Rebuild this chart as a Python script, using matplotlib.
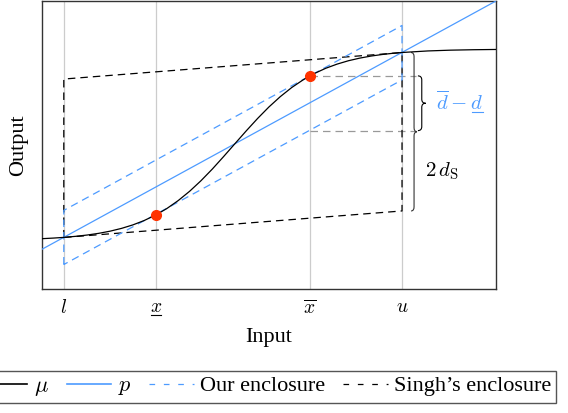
import numpy as np
import matplotlib
matplotlib.use("Agg")
import matplotlib.pyplot as plt
from matplotlib.path import Path
from matplotlib.patches import PathPatch
from matplotlib.lines import Line2D
from matplotlib.transforms import IdentityTransform

plt.rcParams['font.family'] = ['Liberation Serif', 'DejaVu Serif']
plt.rcParams['mathtext.fontset'] = 'cm'

# key input positions
l_x, xlo, xhi, u_x = 0.48, 2.51, 5.90, 7.93
tick_pos = [l_x, xlo, xhi, u_x]
# mathtext has no \underline, the bar under x is added by hand below
tick_lbl = [r'$l$', r'$x$', r'$\overline{x}$', r'$u$']

# mu curve
mu_x = [0.00, 0.25, 0.48, 0.75, 1.00, 1.25, 1.50, 1.75, 2.00, 2.25, 2.51,
        2.75, 3.00, 3.25, 3.50, 3.75, 4.00, 4.25, 4.50, 4.75, 5.00, 5.25,
        5.50, 5.75, 5.90, 6.00, 6.25, 6.50, 6.75, 7.00, 7.25, 7.50, 7.75,
        7.93, 8.50, 9.00, 9.50, 10.0]
mu_y = [1.747, 1.768, 1.792, 1.830, 1.875, 1.933, 2.008, 2.104, 2.225, 2.377,
        2.574, 2.794, 3.070, 3.391, 3.757, 4.162, 4.598, 5.046, 5.493, 5.923,
        6.323, 6.681, 6.995, 7.260, 7.399, 7.483, 7.664, 7.809, 7.926, 8.017,
        8.089, 8.144, 8.188, 8.212, 8.266, 8.293, 8.308, 8.317]

# linear approximation p
p_x = [0.0, 10.0]
p_y = [1.38, 10.0]

# our enclosure (parallelogram around p)
our_x = [l_x, l_x, u_x, u_x, l_x]
our_y = [0.85, 2.73, 9.15, 7.26, 0.85]

# Singh's enclosure
singh_x = [l_x, l_x, u_x, u_x, l_x]
singh_y = [1.79, 7.29, 8.21, 2.71, 1.79]

# touching points
pts_x = [xlo, xhi]
pts_y = [2.574, 7.399]

# levels for the d-bar - d-under brace
d_hi, d_lo = 7.40, 5.50

blue = '#4d9bff'


def brace(ax, x0, y0, y1, w, r, **kw):
    xm = x0 + w / 2
    ym = (y0 + y1) / 2
    verts = [(x0, y0), (xm, y0), (xm, y0 + r),
             (xm, ym - r),
             (xm, ym), (x0 + w, ym),
             (xm, ym), (xm, ym + r),
             (xm, y1 - r),
             (xm, y1), (x0, y1)]
    codes = [Path.MOVETO, Path.CURVE3, Path.CURVE3,
             Path.LINETO,
             Path.CURVE3, Path.CURVE3,
             Path.CURVE3, Path.CURVE3,
             Path.LINETO,
             Path.CURVE3, Path.CURVE3]
    ax.add_patch(PathPatch(Path(verts, codes), fill=False, **kw))


def underline(fig, x0, x1, y, color):
    fig.add_artist(Line2D([x0, x1], [y, y], color=color, lw=0.8,
                          transform=IdentityTransform()))


fig = plt.figure(figsize=(5.68, 4.13), dpi=100)
ax = fig.add_axes([42 / 568, 1 - 289 / 413, 454 / 568, 288 / 413])
ax.set_xlim(0, 10)
ax.set_ylim(0, 10)

for t in tick_pos:
    ax.axvline(t, color='#cccccc', lw=0.9, zorder=0)

dash = (0, (6, 4))
ax.plot(singh_x, singh_y, color='black', lw=0.9, ls=dash, zorder=2)
ax.plot(our_x, our_y, color=blue, lw=0.9, ls=dash, zorder=3)
ax.plot([xhi, 8.24], [d_hi, d_hi], color='#999999', lw=0.9, ls=dash, zorder=1)
ax.plot([xhi, 8.24], [d_lo, d_lo], color='#999999', lw=0.9, ls=dash, zorder=1)
ax.plot(p_x, p_y, color=blue, lw=0.9, zorder=4)
ax.plot(mu_x, mu_y, color='black', lw=0.9, zorder=5)
ax.plot(pts_x, pts_y, 'o', color='#ff3300', ms=7, zorder=6)

brace(ax, 8.28, d_lo, d_hi, 0.17, 0.14, color='black', lw=0.8)
brace(ax, 8.13, 2.71, 8.21, 0.13, 0.14, color='#333333', lw=0.8)
dtxt = ax.text(8.68, 6.45, r'$\overline{d}-d$', color=blue, fontsize=15,
               ha='left', va='center')
ax.text(8.44, 4.10, r'$2\,d_\mathrm{S}$', color='black', fontsize=15,
        ha='left', va='center')

ax.set_xticks(tick_pos)
ax.set_xticklabels(tick_lbl, fontsize=14)
ax.set_yticks([])
ax.tick_params(axis='x', length=0, pad=7)
ax.set_xlabel('Input', fontsize=16, labelpad=8)
ax.set_ylabel('Output', fontsize=16, labelpad=10)
for s in ax.spines.values():
    s.set_color('#333333')
    s.set_linewidth(1.0)

handles = [Line2D([], [], color='black', lw=1.2),
           Line2D([], [], color=blue, lw=1.2),
           Line2D([], [], color=blue, lw=0.9, ls=(0, (4.5, 7))),
           Line2D([], [], color='black', lw=0.9, ls=(0, (4.5, 7)))]
labels = [r'$\mu$', r'$p$', 'Our enclosure', 'Singh\u2019s enclosure']
leg = fig.legend(handles, labels, ncol=4, loc='center right',
                 bbox_to_anchor=(556 / 568, 1 - 387 / 413), fontsize=16,
                 fancybox=False, framealpha=1, edgecolor='#555555',
                 handlelength=2.0, handletextpad=0.3, columnspacing=0.8,
                 borderpad=0.2, borderaxespad=0)
leg.get_frame().set_linewidth(1.0)

# hand-made underlines
fig.canvas.draw()
r = fig.canvas.get_renderer()
bb = ax.get_xticklabels()[1].get_window_extent(r)
underline(fig, bb.x0 + 1, bb.x1 - 1, bb.y0 + 1, 'black')
bb = dtxt.get_window_extent(r)
underline(fig, bb.x1 - 11, bb.x1, bb.y0 + 3, blue)

fig.savefig('out.png', dpi=100)
